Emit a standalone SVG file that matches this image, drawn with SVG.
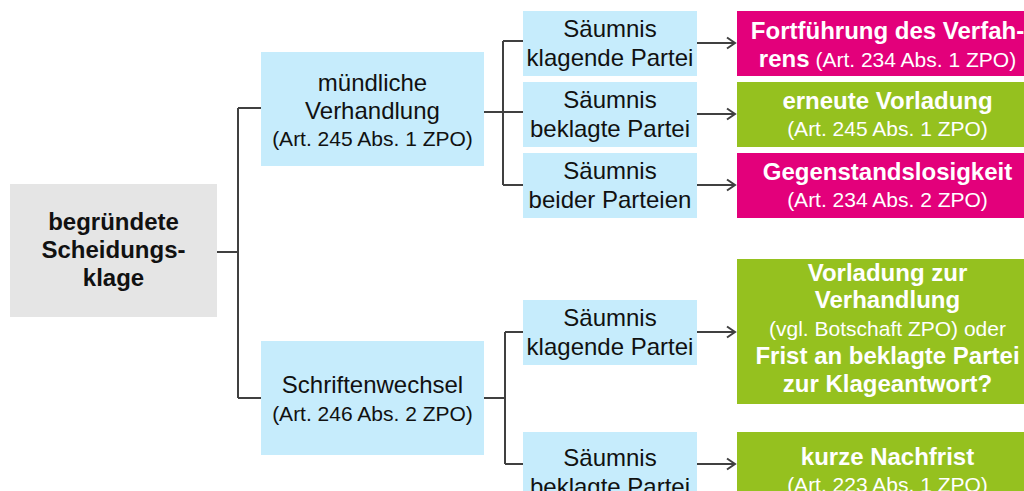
<svg xmlns="http://www.w3.org/2000/svg" width="1024" height="491" viewBox="0 0 1024 491">
  <defs>
    <style>
      .root { fill: #e5e5e5; }
      .blue { fill: #c6ecfc; }
      .mag { fill: #e3007b; }
      .grn { fill: #95c11f; }
      text { font-family: "Liberation Sans", Arial, sans-serif; text-anchor: middle; }
      .dk { fill: #111111; }
      .wt { fill: #ffffff; }
      .b { font-weight: bold; }
      .l { font-size: 24px; }
      .s { font-size: 21px; }
      .conn { fill: none; stroke: #404040; stroke-width: 2; }
    </style>
    <marker id="arr" markerUnits="userSpaceOnUse" markerWidth="14" markerHeight="14" refX="10" refY="7" orient="auto">
      <path d="M2,1.5 L10,7 L2,12.5" fill="none" stroke="#404040" stroke-width="2"/>
    </marker>
  </defs>
  <rect width="1024" height="491" fill="#ffffff"/>

  <g id="connectors" class="conn">
    <path d="M217,252 H238 M238,108 V398 M238,108 H261 M238,398 H261"/>
    <path d="M484,112 H503 M503,41 V185 M503,41 H523 M503,112 H523 M503,185 H523"/>
    <path d="M484,398 H505 M505,332 V464 M505,332 H523 M505,464 H523"/>
    <path d="M697,43 H735" marker-end="url(#arr)"/>
    <path d="M697,114 H735" marker-end="url(#arr)"/>
    <path d="M697,185 H735" marker-end="url(#arr)"/>
    <path d="M697,332 H735" marker-end="url(#arr)"/>
    <path d="M697,464 H735" marker-end="url(#arr)"/>
  </g>

  <g id="root">
    <rect class="root" x="10" y="184" width="207" height="133"/>
    <text class="dk b l" x="113.5" y="230">begründete</text>
    <text class="dk b l" x="113.5" y="258">Scheidungs-</text>
    <text class="dk b l" x="113.5" y="286">klage</text>
  </g>

  <g id="muendlich">
    <rect class="blue" x="261" y="52" width="223" height="114"/>
    <text class="dk l" x="372.5" y="91">mündliche</text>
    <text class="dk l" x="372.5" y="119">Verhandlung</text>
    <text class="dk s" x="372.5" y="146">(Art. 245 Abs. 1 ZPO)</text>
  </g>

  <g id="schriftenwechsel">
    <rect class="blue" x="261" y="341" width="223" height="114"/>
    <text class="dk l" x="372.5" y="393">Schriftenwechsel</text>
    <text class="dk s" x="372.5" y="421">(Art. 246 Abs. 2 ZPO)</text>
  </g>

  <g id="s1">
    <rect class="blue" x="523" y="11" width="174" height="65"/>
    <text class="dk l" x="610" y="37">Säumnis</text>
    <text class="dk l" x="610" y="66">klagende Partei</text>
  </g>
  <g id="s2">
    <rect class="blue" x="523" y="82" width="174" height="65"/>
    <text class="dk l" x="610" y="108">Säumnis</text>
    <text class="dk l" x="610" y="137">beklagte Partei</text>
  </g>
  <g id="s3">
    <rect class="blue" x="523" y="153" width="174" height="65"/>
    <text class="dk l" x="610" y="179">Säumnis</text>
    <text class="dk l" x="610" y="208">beider Parteien</text>
  </g>
  <g id="s4">
    <rect class="blue" x="523" y="300" width="174" height="65"/>
    <text class="dk l" x="610" y="326">Säumnis</text>
    <text class="dk l" x="610" y="355">klagende Partei</text>
  </g>
  <g id="s5">
    <rect class="blue" x="523" y="432" width="174" height="65"/>
    <text class="dk l" x="610" y="466">Säumnis</text>
    <text class="dk l" x="610" y="495">beklagte Partei</text>
  </g>

  <g id="r1">
    <rect class="mag" x="737" y="11" width="300" height="65"/>
    <text class="wt b l" x="887.5" y="39">Fortführung des Verfah-</text>
    <text class="wt l" x="887.5" y="67"><tspan class="b">rens</tspan><tspan class="s"> (Art. 234 Abs. 1 ZPO)</tspan></text>
  </g>
  <g id="r2">
    <rect class="grn" x="737" y="82" width="300" height="65"/>
    <text class="wt b l" x="887.5" y="109">erneute Vorladung</text>
    <text class="wt s" x="887.5" y="136">(Art. 245 Abs. 1 ZPO)</text>
  </g>
  <g id="r3">
    <rect class="mag" x="737" y="153" width="300" height="65"/>
    <text class="wt b l" x="887.5" y="180">Gegenstandslosigkeit</text>
    <text class="wt s" x="887.5" y="207">(Art. 234 Abs. 2 ZPO)</text>
  </g>
  <g id="r4">
    <rect class="grn" x="737" y="259" width="300" height="145"/>
    <text class="wt b l" x="887.5" y="281">Vorladung zur</text>
    <text class="wt b l" x="887.5" y="308">Verhandlung</text>
    <text class="wt s" x="887.5" y="336">(vgl. Botschaft ZPO) oder</text>
    <text class="wt b l" x="887.5" y="364">Frist an beklagte Partei</text>
    <text class="wt b l" x="887.5" y="392">zur Klageantwort?</text>
  </g>
  <g id="r5">
    <rect class="grn" x="737" y="432" width="300" height="65"/>
    <text class="wt b l" x="887.5" y="465">kurze Nachfrist</text>
    <text class="wt s" x="887.5" y="492">(Art. 223 Abs. 1 ZPO)</text>
  </g>
</svg>
